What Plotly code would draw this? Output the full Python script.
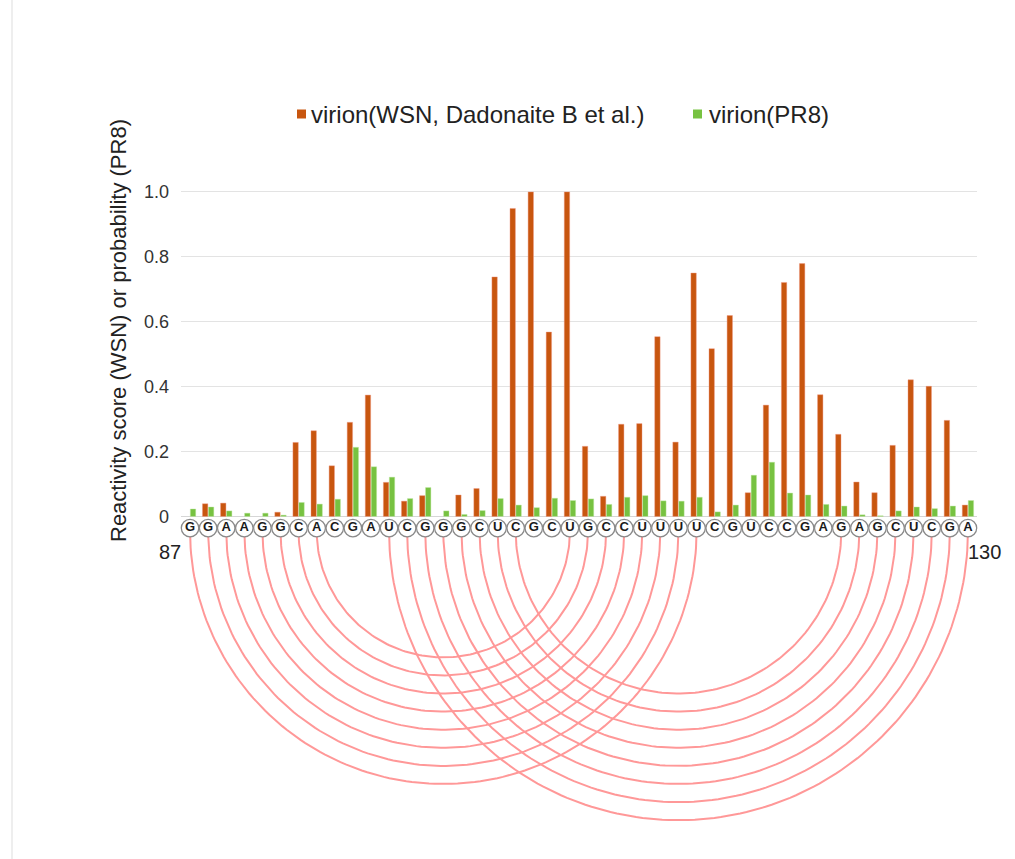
import numpy as np
import plotly.graph_objects as go

# Nucleotide positions and sequence (87-130)
positions = list(range(87, 131))
sequence = list("GGAAGGCACGAUCGGGCUCGCUGCCUUUUCGUCCGAGAGCUCGA")

# Reactivity score, virion WSN (Dadonaite B et al.)
wsn = [None, 0.039, 0.041, None, None, 0.013, 0.228, 0.264, 0.156, 0.290,
       0.374, 0.105, 0.047, 0.064, None, 0.066, 0.086, 0.738, 0.949, 1.0,
       0.568, 1.0, 0.216, 0.062, 0.284, 0.286, 0.554, 0.229, 0.750, 0.517,
       0.619, 0.073, 0.343, 0.721, 0.779, 0.375, 0.253, 0.106, 0.073, 0.219,
       0.421, 0.401, 0.296, 0.035]

# Probability, virion PR8
pr8 = [0.023, 0.029, 0.017, 0.010, 0.010, 0.004, 0.043, 0.038, 0.053, 0.213,
       0.153, 0.121, 0.055, 0.089, 0.017, 0.006, 0.018, 0.055, 0.035, 0.027,
       0.056, 0.049, 0.054, 0.037, 0.059, 0.064, 0.048, 0.047, 0.059, 0.014,
       0.035, 0.127, 0.167, 0.072, 0.066, 0.037, 0.032, 0.005, 0.002, 0.017,
       0.029, 0.024, 0.032, 0.049]

# Base pairs drawn as arcs below the sequence
pairs = [(87, 115), (88, 114), (89, 113), (90, 112), (91, 111), (92, 110),
         (93, 109), (94, 108),
         (98, 130), (99, 129), (100, 128), (101, 127), (102, 126), (103, 125),
         (104, 124), (105, 123)]

series_names = ["virion(WSN, Dadonaite B et al.)", "virion(PR8)"]
series_colors = ["#c8560f", "#77c241"]

y_ticks = [0, 0.2, 0.4, 0.6, 0.8, 1.0, 1.2]
y_ticktext = ["0", "0.2", "0.4", "0.6", "0.8", "1.0", ""]

FONT = "Liberation Sans, Arial, sans-serif"
W, H = 1015, 859
M_L, M_R, M_T, M_B = 181, 38, 127, 32
X_RANGE = [86.5, 130.5]
Y_RANGE = [-0.957, 1.2]
SEQ_Y = -0.036
ARC_Y = -0.044
POS_LABEL_Y = -0.11

plot_w = W - M_L - M_R
plot_h = H - M_T - M_B
# pixel scale of each axis, used to keep the arcs circular on screen
px_per_x = plot_w / (X_RANGE[1] - X_RANGE[0])
px_per_y = plot_h / (Y_RANGE[1] - Y_RANGE[0])


def x_paper(px):
    return (px - M_L) / plot_w


def y_paper(py):
    return (H - M_B - py) / plot_h


def pos_to_paper(pos):
    return (pos - X_RANGE[0]) / (X_RANGE[1] - X_RANGE[0])


def val_to_paper(v):
    return (v - Y_RANGE[0]) / (Y_RANGE[1] - Y_RANGE[0])


fig = go.Figure()

# arcs
t = np.linspace(0, np.pi, 140)
for i, j in pairs:
    c = (i + j) / 2
    r = (j - i) / 2
    xs = c + r * np.cos(t)
    ys = ARC_Y - r * (px_per_x / px_per_y) * np.sin(t)
    fig.add_trace(go.Scatter(x=xs, y=ys, mode="lines",
                             line=dict(color="#ff9898", width=2),
                             hoverinfo="skip", showlegend=False))

fig.add_trace(go.Bar(x=positions, y=wsn, name=series_names[0], showlegend=False,
                     marker=dict(color=series_colors[0],
                                 line=dict(color="rgba(240,150,130,0.7)", width=0.6))))
fig.add_trace(go.Bar(x=positions, y=pr8, name=series_names[1], showlegend=False,
                     marker=dict(color=series_colors[1],
                                 line=dict(color="rgba(190,230,160,0.7)", width=0.6))))

# sequence circles
fig.add_trace(go.Scatter(
    x=positions, y=[SEQ_Y] * len(positions), mode="markers+text",
    text=sequence, textposition="middle center",
    textfont=dict(family=FONT, size=13, color="#1a1a1a", weight="bold"),
    marker=dict(symbol="circle", size=17.5, color="white",
                line=dict(color="#8a8a8a", width=1.3)),
    cliponaxis=False, hoverinfo="skip", showlegend=False))

annotations = [
    # axis title
    dict(text="Reactivity score (WSN) or probability (PR8)",
         xref="paper", yref="paper", x=x_paper(118), y=y_paper(331),
         xanchor="center", yanchor="middle", textangle=-90, showarrow=False,
         font=dict(family=FONT, size=22, color="#222222")),
    # first / last position numbers
    dict(text=str(positions[0]), xref="paper", yref="paper",
         x=pos_to_paper(positions[0] - 1.13), y=val_to_paper(POS_LABEL_Y),
         xanchor="center", yanchor="middle", showarrow=False,
         font=dict(family=FONT, size=20, color="#222222")),
    dict(text=str(positions[-1]), xref="paper", yref="paper",
         x=pos_to_paper(positions[-1] + 0.9), y=val_to_paper(POS_LABEL_Y),
         xanchor="center", yanchor="middle", showarrow=False,
         font=dict(family=FONT, size=20, color="#222222")),
]

shapes = [dict(type="line", xref="paper", yref="paper",
               x0=x_paper(12), x1=x_paper(12), y0=y_paper(870), y1=y_paper(-10),
               line=dict(color="#dddddd", width=1))]

# legend: colour square followed by series name
legend_y = 114
legend_items = [(297, 309), (693, 707)]
for (sq_x, tx_x), name, col in zip(legend_items, series_names, series_colors):
    shapes.append(dict(type="rect", xref="paper", yref="paper",
                       x0=x_paper(sq_x), x1=x_paper(sq_x + 9),
                       y0=y_paper(legend_y + 4.5), y1=y_paper(legend_y - 4.5),
                       fillcolor=col, line=dict(width=0)))
    annotations.append(dict(text=name, xref="paper", yref="paper",
                            x=x_paper(tx_x), y=y_paper(legend_y),
                            xanchor="left", yanchor="middle", showarrow=False,
                            font=dict(family=FONT, size=24, color="#222222")))

fig.update_layout(
    width=W, height=H,
    margin=dict(l=M_L, r=M_R, t=M_T, b=M_B),
    paper_bgcolor="white", plot_bgcolor="white",
    barmode="group", bargap=0.34, bargroupgap=0.1,
    font=dict(family=FONT, color="#222222"),
    showlegend=False,
    xaxis=dict(range=X_RANGE, showgrid=False, zeroline=False,
               showticklabels=False, showline=False, fixedrange=True),
    yaxis=dict(range=Y_RANGE, tickvals=y_ticks, ticktext=y_ticktext,
               showgrid=True, gridcolor="#e3e3e3", gridwidth=1,
               zeroline=True, zerolinecolor="#d6d6d6", zerolinewidth=1,
               showline=False, ticks="", ticklabelstandoff=11,
               tickfont=dict(family=FONT, size=18, color="#333333")),
    annotations=annotations,
    shapes=shapes,
)

fig.write_html("out.html")
